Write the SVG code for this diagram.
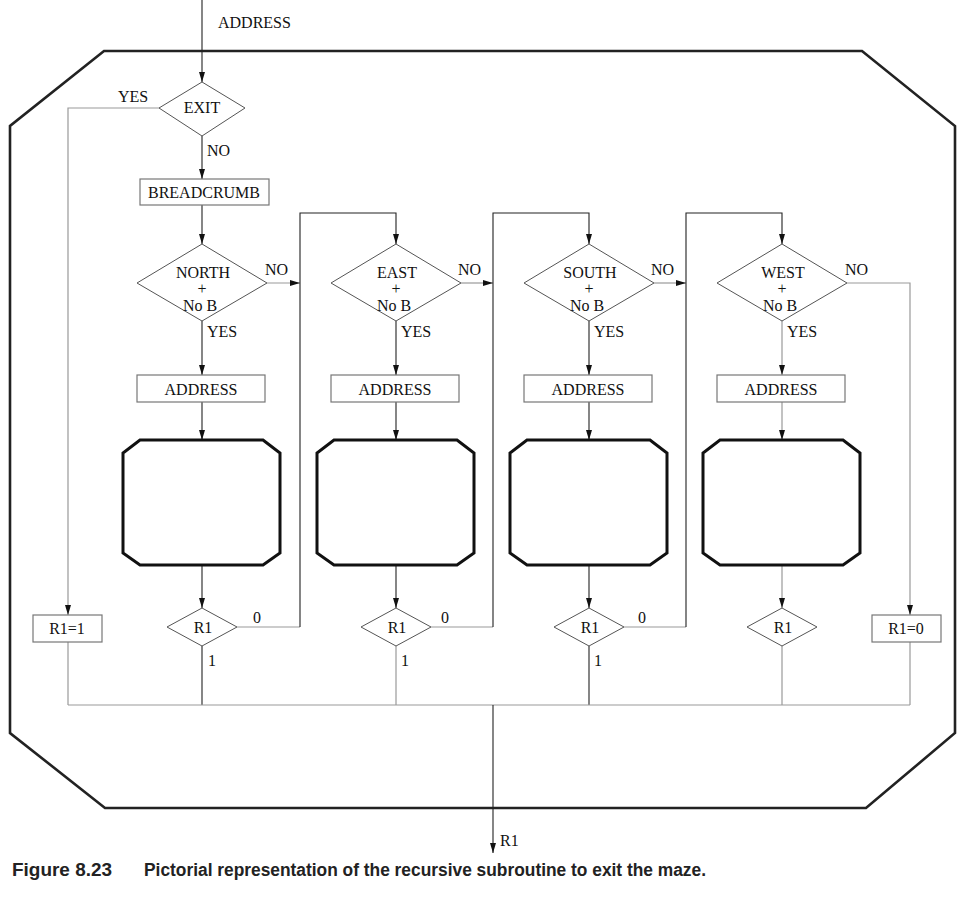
<svg xmlns="http://www.w3.org/2000/svg" width="965" height="913" viewBox="0 0 965 913">
  <style>
    .lbl { font-family: "Liberation Serif", "Times New Roman", serif; font-size: 16px; fill: #111; }
    .mid { text-anchor: middle; }
    .box { fill: #fff; stroke: #777; stroke-width: 1.2; }
    .dia { fill: #fff; stroke: #555; stroke-width: 1; }
    .frame { fill: none; stroke: #222; stroke-width: 2.6; stroke-linejoin: miter; }
    .sub { fill: #fff; stroke: #111; stroke-width: 3; stroke-linejoin: miter; }
    .dark { fill: none; stroke: #222; stroke-width: 1.1; }
    .grey { fill: none; stroke: #999; stroke-width: 1.2; }
    .cap { font-family: "Liberation Sans", Arial, sans-serif; font-weight: bold; font-size: 17.5px; fill: #222; }
  </style>
  <defs>
    <marker id="arr" viewBox="0 0 10 10" refX="10" refY="5" markerWidth="10" markerHeight="10" markerUnits="userSpaceOnUse" orient="auto">
      <path d="M0,2 L10,5 L0,8 Z" fill="#111"/>
    </marker>
  </defs>

  <!-- outer frame of the subroutine -->
  <polygon id="frame" class="frame" points="104,51 862,51 955,126 955,733 866,808 105,808 10,733 10,126"/>

  <!-- connectors -->
  <g id="connectors">
    <!-- entry -->
    <path class="dark" d="M202,0 V82" marker-end="url(#arr)"/>
    <path class="dark" d="M202,136 V179" marker-end="url(#arr)"/>
    <path class="dark" d="M202,205 V244" marker-end="url(#arr)"/>
    <!-- EXIT yes path -->
    <path class="grey" d="M160,108 H68 V615" marker-end="url(#arr)"/>
    <path class="grey" d="M68,642 V705"/>

    <!-- NORTH column -->
    <path class="dark" d="M202,321 V375" marker-end="url(#arr)"/>
    <path class="dark" d="M202,402 V440" marker-end="url(#arr)"/>
    <path class="dark" d="M202,565 V608" marker-end="url(#arr)"/>
    <path class="dark" d="M202,646 V705"/>
    <path class="grey" d="M267,283 H300" marker-end="url(#arr)"/>
    <path class="grey" d="M237,627 H300"/>
    <path class="dark" d="M300,627 V213 H396 V244" marker-end="url(#arr)"/>

    <!-- EAST column -->
    <path class="dark" d="M396,321 V375" marker-end="url(#arr)"/>
    <path class="dark" d="M396,402 V440" marker-end="url(#arr)"/>
    <path class="dark" d="M396,565 V608" marker-end="url(#arr)"/>
    <path class="grey" d="M396,646 V705"/>
    <path class="grey" d="M461,283 H493" marker-end="url(#arr)"/>
    <path class="grey" d="M431,627 H493"/>
    <path class="dark" d="M493,627 V213 H589 V244" marker-end="url(#arr)"/>

    <!-- SOUTH column -->
    <path class="dark" d="M589,321 V375" marker-end="url(#arr)"/>
    <path class="dark" d="M589,402 V440" marker-end="url(#arr)"/>
    <path class="dark" d="M589,565 V608" marker-end="url(#arr)"/>
    <path class="dark" d="M589,646 V705"/>
    <path class="grey" d="M654,283 H686" marker-end="url(#arr)"/>
    <path class="grey" d="M624,627 H686"/>
    <path class="dark" d="M686,627 V213 H782 V244" marker-end="url(#arr)"/>

    <!-- WEST column -->
    <path class="grey" d="M782,321 V375" marker-end="url(#arr)"/>
    <path class="grey" d="M782,402 V440" marker-end="url(#arr)"/>
    <path class="grey" d="M782,565 V608" marker-end="url(#arr)"/>
    <path class="grey" d="M782,646 V705"/>
    <path class="grey" d="M847,283 H910 V615" marker-end="url(#arr)"/>
    <path class="grey" d="M910,642 V705"/>

    <!-- collecting bus and result -->
    <path class="grey" d="M68,705 H910"/>
    <path class="dark" d="M493,705 V853" marker-end="url(#arr)"/>
  </g>

  <!-- entry label -->
  <text class="lbl" x="218" y="28">ADDRESS</text>

  <g id="exit">
    <polygon class="dia" points="202,82 245,108 202,136 159,108"/>
    <text class="lbl mid" x="202" y="113">EXIT</text>
    <text class="lbl" x="118" y="102">YES</text>
    <text class="lbl" x="207" y="156">NO</text>
  </g>

  <g id="breadcrumb">
    <rect class="box" x="140" y="179" width="129" height="26"/>
    <text class="lbl mid" x="204" y="198">BREADCRUMB</text>
  </g>

  <!-- direction tests -->
  <g id="north">
    <polygon class="dia" points="202,244 267,283 202,321 137,283"/>
    <text class="lbl mid" x="203" y="278">NORTH</text>
    <text class="lbl mid" x="202" y="294">+</text>
    <text class="lbl mid" x="200" y="311">No B</text>
    <text class="lbl" x="265" y="275">NO</text>
    <text class="lbl" x="207" y="337">YES</text>
  </g>
  <g id="east">
    <polygon class="dia" points="396,244 461,283 396,321 331,283"/>
    <text class="lbl mid" x="397" y="278">EAST</text>
    <text class="lbl mid" x="396" y="294">+</text>
    <text class="lbl mid" x="394" y="311">No B</text>
    <text class="lbl" x="458" y="275">NO</text>
    <text class="lbl" x="401" y="337">YES</text>
  </g>
  <g id="south">
    <polygon class="dia" points="589,244 654,283 589,321 524,283"/>
    <text class="lbl mid" x="590" y="278">SOUTH</text>
    <text class="lbl mid" x="589" y="294">+</text>
    <text class="lbl mid" x="587" y="311">No B</text>
    <text class="lbl" x="651" y="275">NO</text>
    <text class="lbl" x="594" y="337">YES</text>
  </g>
  <g id="west">
    <polygon class="dia" points="782,244 847,283 782,321 717,283"/>
    <text class="lbl mid" x="783" y="278">WEST</text>
    <text class="lbl mid" x="782" y="294">+</text>
    <text class="lbl mid" x="780" y="311">No B</text>
    <text class="lbl" x="845" y="275">NO</text>
    <text class="lbl" x="787" y="337">YES</text>
  </g>

  <!-- address pushes -->
  <g id="address-n"><rect class="box" x="137" y="375" width="128" height="27"/><text class="lbl mid" x="201" y="395">ADDRESS</text></g>
  <g id="address-e"><rect class="box" x="331" y="375" width="128" height="27"/><text class="lbl mid" x="395" y="395">ADDRESS</text></g>
  <g id="address-s"><rect class="box" x="524" y="375" width="128" height="27"/><text class="lbl mid" x="588" y="395">ADDRESS</text></g>
  <g id="address-w"><rect class="box" x="717" y="375" width="128" height="27"/><text class="lbl mid" x="781" y="395">ADDRESS</text></g>

  <!-- recursive calls -->
  <g id="call-n"><polygon class="sub" points="140,440 263,440 280,453 280,553 263,565 140,565 123,553 123,453"/></g>
  <g id="call-e"><polygon class="sub" points="334,440 457,440 474,453 474,553 457,565 334,565 317,553 317,453"/></g>
  <g id="call-s"><polygon class="sub" points="527,440 650,440 667,453 667,553 650,565 527,565 510,553 510,453"/></g>
  <g id="call-w"><polygon class="sub" points="720,440 843,440 860,453 860,553 843,565 720,565 703,553 703,453"/></g>

  <!-- result tests -->
  <g id="r1-n">
    <polygon class="dia" points="202,608 237,627 202,646 167,627"/>
    <text class="lbl mid" x="203" y="633">R1</text>
    <text class="lbl" x="253" y="623">0</text>
    <text class="lbl" x="208" y="666">1</text>
  </g>
  <g id="r1-e">
    <polygon class="dia" points="396,608 431,627 396,646 361,627"/>
    <text class="lbl mid" x="397" y="633">R1</text>
    <text class="lbl" x="441" y="623">0</text>
    <text class="lbl" x="401" y="666">1</text>
  </g>
  <g id="r1-s">
    <polygon class="dia" points="589,608 624,627 589,646 554,627"/>
    <text class="lbl mid" x="590" y="633">R1</text>
    <text class="lbl" x="638" y="623">0</text>
    <text class="lbl" x="594" y="666">1</text>
  </g>
  <g id="r1-w">
    <polygon class="dia" points="782,608 817,627 782,646 747,627"/>
    <text class="lbl mid" x="783" y="633">R1</text>
  </g>

  <g id="set-one">
    <rect class="box" x="33" y="615" width="69" height="27"/>
    <text class="lbl mid" x="67" y="634">R1=1</text>
  </g>
  <g id="set-zero">
    <rect class="box" x="872" y="615" width="69" height="27"/>
    <text class="lbl mid" x="906" y="634">R1=0</text>
  </g>

  <text class="lbl" x="500" y="846">R1</text>

  <!-- caption -->
  <text class="cap" x="12" y="876" textLength="100" lengthAdjust="spacingAndGlyphs">Figure 8.23</text>
  <text class="cap" x="144" y="876" textLength="562" lengthAdjust="spacingAndGlyphs">Pictorial representation of the recursive subroutine to exit the maze.</text>
</svg>
